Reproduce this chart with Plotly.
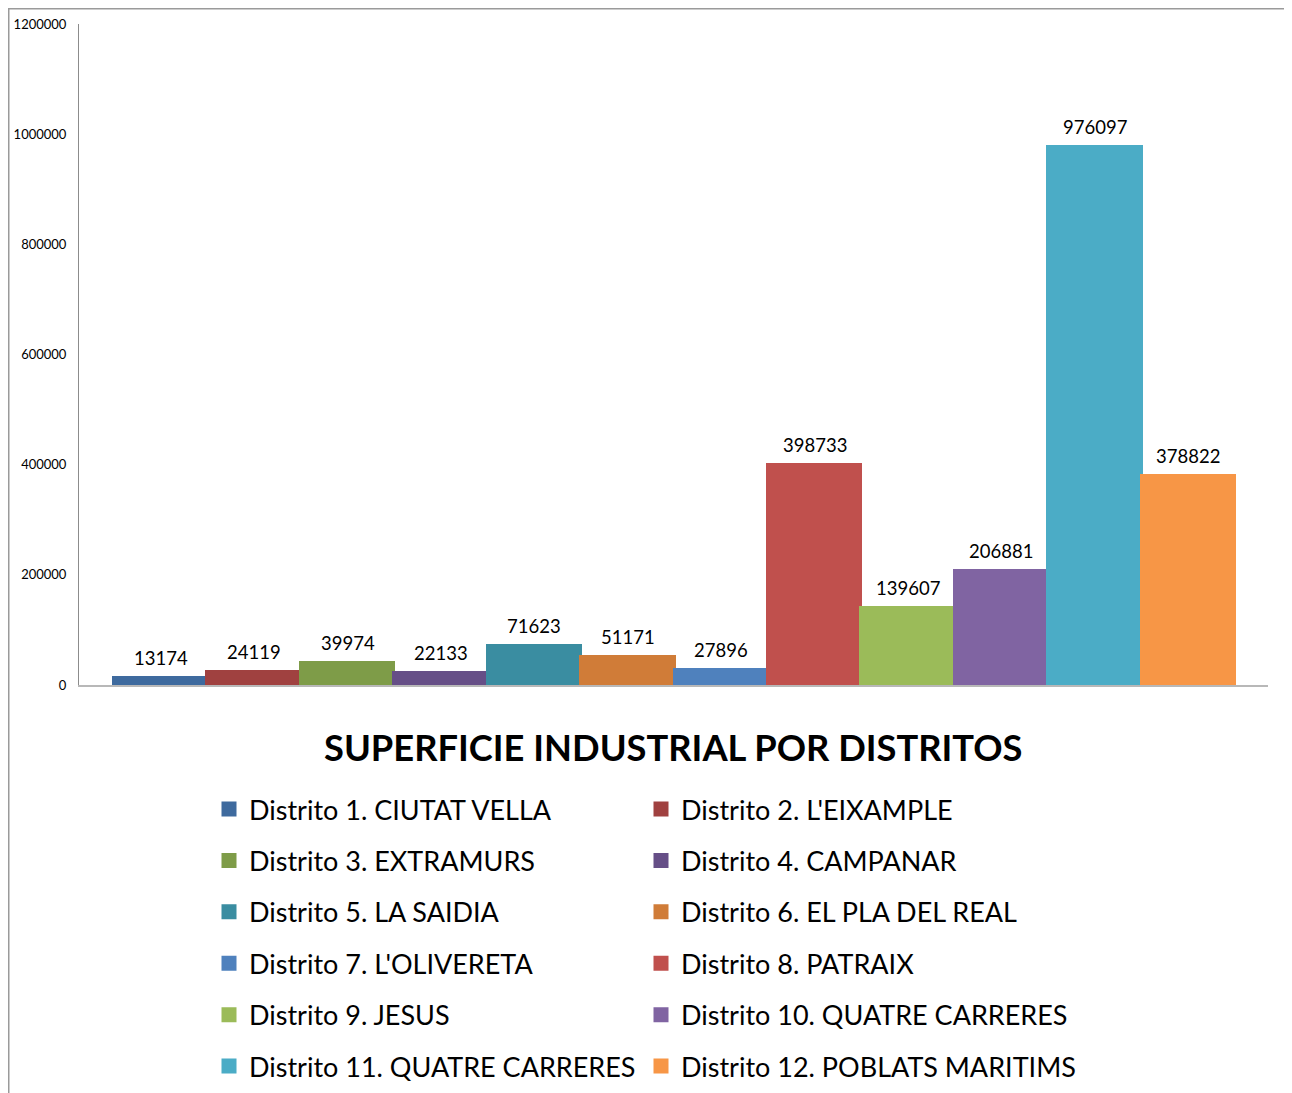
import plotly.graph_objects as go

districts = [
    "Distrito 1. CIUTAT VELLA", "Distrito 2. L'EIXAMPLE",
    "Distrito 3. EXTRAMURS", "Distrito 4. CAMPANAR",
    "Distrito 5. LA SAIDIA", "Distrito 6. EL PLA DEL REAL",
    "Distrito 7. L'OLIVERETA", "Distrito 8. PATRAIX",
    "Distrito 9. JESUS", "Distrito 10. QUATRE CARRERES",
    "Distrito 11. QUATRE CARRERES", "Distrito 12. POBLATS MARITIMS",
]
values = [13174, 24119, 39974, 22133, 71623, 51171, 27896, 398733, 139607, 206881, 976097, 378822]
colors = ["#3E6A9E", "#A04140", "#7E9C48", "#664F87", "#3A8DA1", "#D07C38",
          "#4F81BD", "#C0504D", "#9BBB59", "#8064A2", "#4BACC6", "#F79646"]
tick_vals = [0, 200000, 400000, 600000, 800000, 1000000, 1200000]
title_text = "SUPERFICIE INDUSTRIAL POR DISTRITOS"

FONT = "Lato"

fig = go.Figure()
for i, (name, v, c) in enumerate(zip(districts, values, colors)):
    fig.add_trace(go.Bar(
        x=[name], y=[v], name=name, legendgroup="g%d" % i,
        marker=dict(color=c, line=dict(width=3, color=c)),
        legendwidth=(387 if i % 2 == 0 else 440),
        hoverinfo="y+name",
    ))

W, H = 1292, 1093
L, R, T, B = 71, 32, 16, 416
pw, ph = W - L - R, H - T - B

def px_x(p):
    return (p - L) / pw

def px_y(p):
    return (H - B - p) / ph

annotations = [dict(
    x=name, y=v, xref="x", yref="y", text=str(v), showarrow=False,
    xanchor="center", yanchor="middle", yshift=20,
    font=dict(family=FONT, size=18.5, color="#000000"),
) for name, v in zip(districts, values)]

annotations.append(dict(
    text="<b>" + title_text + "</b>", xref="paper", yref="paper",
    x=px_x(665), y=px_y(739), xanchor="center", yanchor="middle", showarrow=False,
    font=dict(family=FONT, size=36.3, color="#000000"),
))

fig.update_layout(
    width=W, height=H,
    margin=dict(l=L, r=R, t=T, b=B, autoexpand=False),
    paper_bgcolor="white", plot_bgcolor="white",
    barmode="overlay", bargap=0,
    font=dict(family=FONT, color="#000000"),
    showlegend=True,
    legend=dict(
        orientation="h", x=px_x(201), y=px_y(777), xanchor="left", yanchor="top",
        font=dict(family=FONT, size=27, color="#000000"),
        entrywidth=387, entrywidthmode="pixels", traceorder="grouped",
        tracegroupgap=13.3,
        bgcolor="rgba(0,0,0,0)",
    ),
    xaxis=dict(type="category", categoryorder="array", categoryarray=districts,
               range=[-0.875, 11.853],
               showticklabels=False, showline=True, linecolor="#B8B8B8", linewidth=1.5,
               ticks="", showgrid=False, zeroline=False),
    yaxis=dict(range=[0, 1200000], tickvals=tick_vals, ticktext=[str(t) for t in tick_vals],
               showline=True, linecolor="#8C8C8C", linewidth=1, ticks="", showgrid=False,
               zeroline=False, tickfont=dict(family=FONT, size=13, color="#000000"),
               ticklabelstandoff=9),
    annotations=annotations,
    shapes=[dict(type="rect", xref="paper", yref="paper",
                 x0=px_x(0.75), x1=px_x(1277), y0=px_y(1110), y1=px_y(0.75),
                 line=dict(color="#9A9A9A", width=1.5), fillcolor="rgba(0,0,0,0)", layer="below")],
)

fig.write_html("out.html")
